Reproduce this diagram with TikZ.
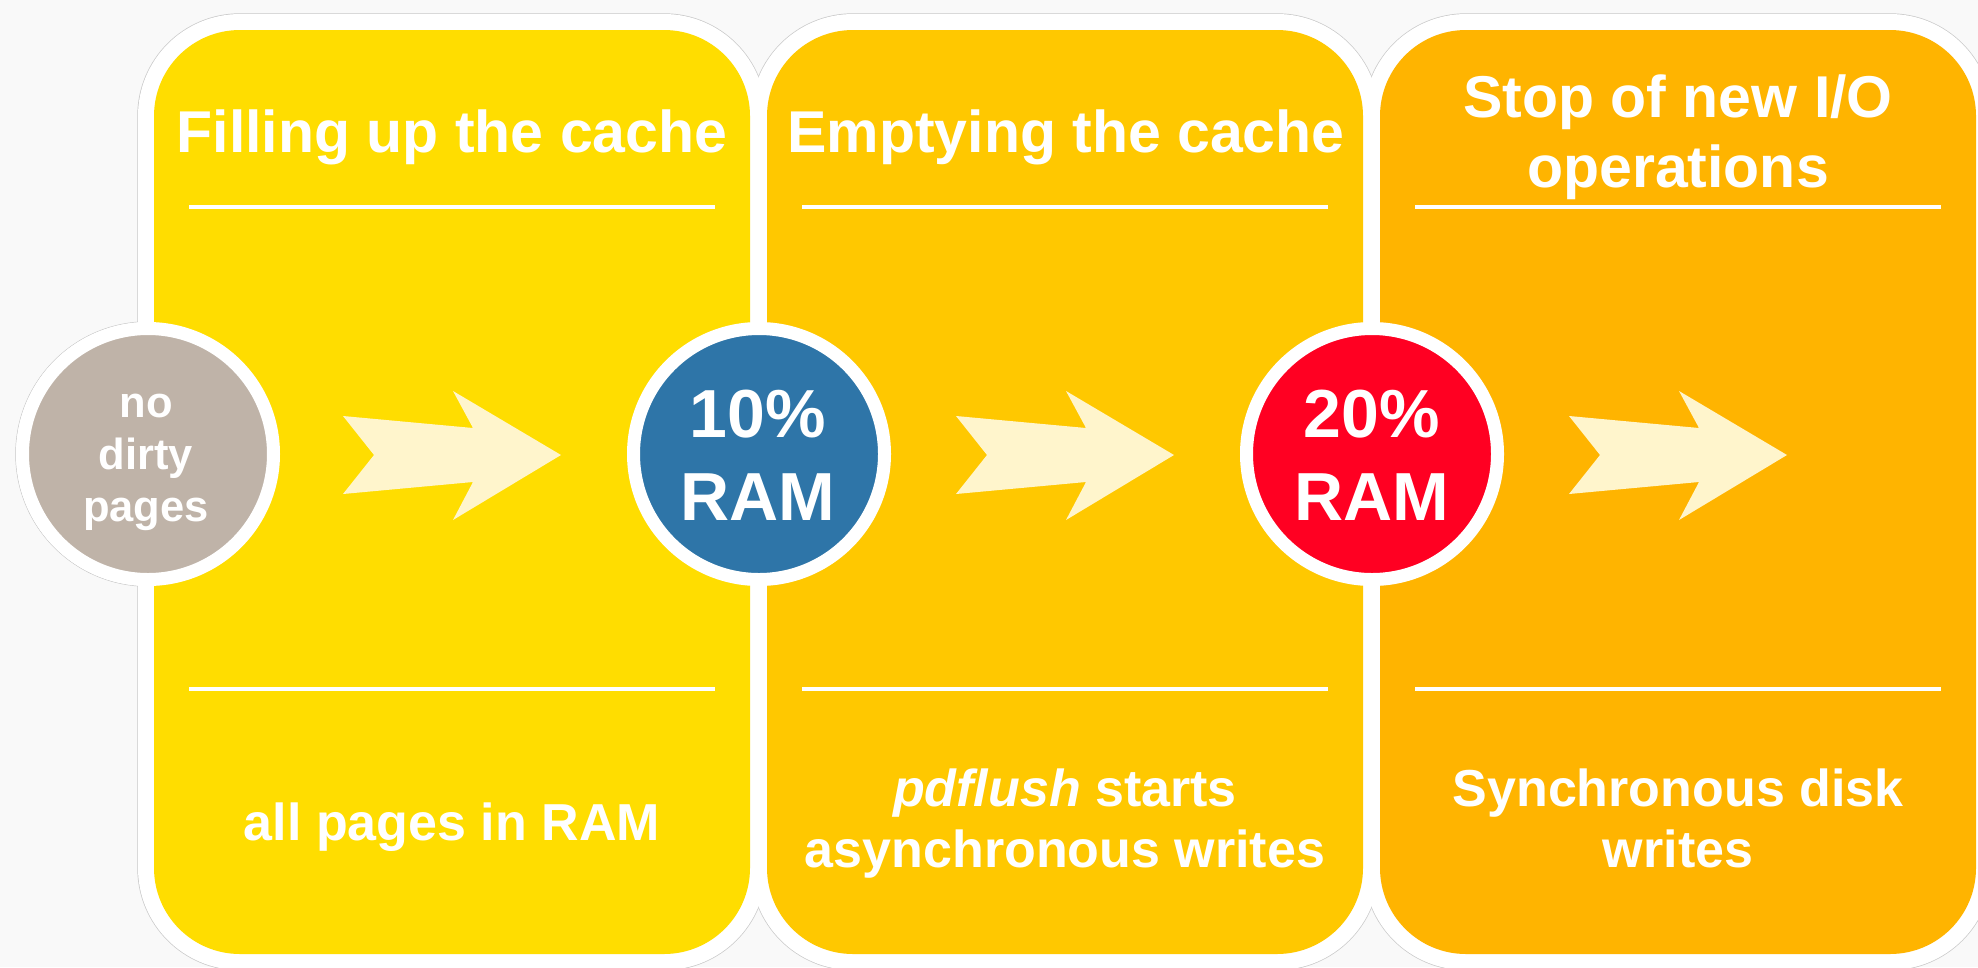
\documentclass[tikz,border=0pt]{standalone}
\usepackage{fontspec}
\setmainfont{Liberation Sans}
\definecolor{pa}{HTML}{FFDD00}
\definecolor{pb}{HTML}{FFC800}
\definecolor{pc}{HTML}{FFB400}
\definecolor{cgrey}{HTML}{BFB3A8}
\definecolor{cblue}{HTML}{2E75A8}
\definecolor{cred}{HTML}{FF0022}
\definecolor{arrowcol}{HTML}{FFF5CC}
\definecolor{bgcol}{HTML}{F9F9F9}
\definecolor{halocol}{HTML}{C8C8C8}
\newcommand{\stacklines}[1]{\vtop{\halign{\hfil##\hfil\cr#1\crcr}}}
\begin{document}
\begin{tikzpicture}[x=1pt,y=-1pt,
  panel/.style={rectangle, rounded corners=86pt, minimum width=596pt, minimum height=924pt, inner sep=0pt, draw=none},
  haloline/.style={draw=halocol, line width=1.4pt},
  halofill/.style={fill=white},
  circ/.style={circle, draw=white, line width=13pt, minimum size=251pt, inner sep=0pt},
  sep/.style={draw=white, line width=4pt},
  arrowshape/.style={fill=arrowcol},
  txt/.style={text=white, inner sep=0pt, anchor=base},
  title/.style={txt, font=\fontsize{59}{70}\selectfont\bfseries},
  foot/.style={txt, font=\fontsize{52}{61}\selectfont\bfseries},
  big/.style={txt, font=\fontsize{68}{83}\selectfont\bfseries},
  small/.style={txt, font=\fontsize{43.5}{52}\selectfont\bfseries}
]
\useasboundingbox (0,0) rectangle (1978,967);
\fill[bgcol] (0,0) rectangle (1978,967);
% halo outlines
\foreach \x in {154,767,1380} {
  \draw[haloline, rounded corners=102pt] ({\x-16},14) rectangle ({\x+612},970);
}
\draw[haloline] (148,454) circle[radius=132pt];
% halo fill
\foreach \x in {154,767,1380} {
  \fill[halofill, rounded corners=102pt] ({\x-16},14) rectangle ({\x+612},970);
}
\fill[halofill] (148,454) circle[radius=132pt];
% panels
\node[panel, fill=pa] (p1) at (452,492) {};
\node[panel, fill=pb] (p2) at (1065,492) {};
\node[panel, fill=pc] (p3) at (1678,492) {};
% separators
\foreach \x in {189,802,1415} {
  \draw[sep] (\x,207) -- ({\x+526},207);
  \draw[sep] (\x,689) -- ({\x+526},689);
}
% arrows
\foreach \x in {343,956,1569} {
  \fill[arrowshape, shift={(\x,455)}] (0,-39) -- (31,0) -- (0,39) -- (130,27) -- (110,65) -- (218,0) -- (110,-64) -- (130,-27) -- cycle;
}
% circles
\node[circ, fill=cgrey] (c0) at (148,454) {};
\node[circ, fill=cblue] (c1) at (759,454) {};
\node[circ, fill=cred] (c2) at (1372,454) {};
% circle texts
\node[small] (t0) at (146,417) {\stacklines{no\cr dirty\cr pages}};
\node[big] (t1) at (758,437) {\stacklines{10\%\cr RAM}};
\node[big] (t2) at (1372,437) {\stacklines{20\%\cr RAM}};
% titles
\node[title] (h1) at (452,152) {Filling up the cache};
\node[title] (h2) at (1066,152) {Emptying the cache};
\node[title] (h3) at (1678,117) {\stacklines{Stop of new I/O\cr operations}};
% footers
\node[foot] (f1) at (452,840) {all pages in RAM};
\node[foot] (f2) at (1065,806) {\stacklines{\textit{pdflush} starts\cr asynchronous writes}};
\node[foot] (f3) at (1678,806) {\stacklines{Synchronous disk\cr writes}};
\end{tikzpicture}
\end{document}
